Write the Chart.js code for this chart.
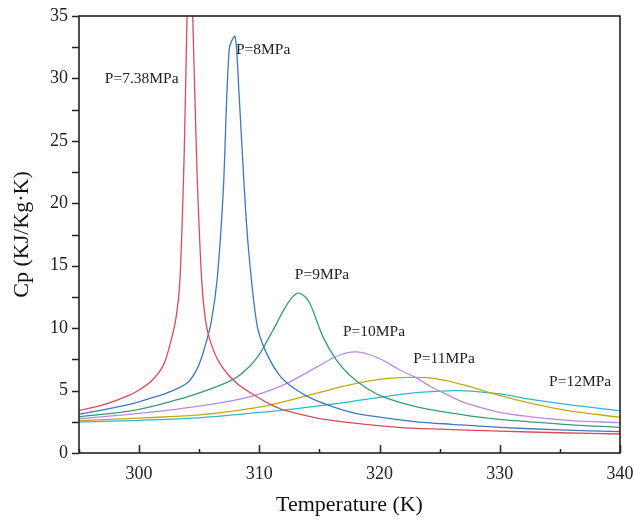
<!DOCTYPE html>
<html>
<head>
<meta charset="utf-8">
<script src="https://cdn.jsdelivr.net/npm/chart.js@4.4.1/dist/chart.umd.min.js"></script>
<style>
html,body{margin:0;padding:0;background:#fff;}
#wrap{width:634px;height:523px;}
</style>
</head>
<body>
<div id="wrap"><canvas id="c" width="634" height="523"></canvas></div>
<script>
// ---- Data ----
const seriesNames = ['P=7.38MPa', 'P=8MPa', 'P=9MPa', 'P=10MPa', 'P=11MPa', 'P=12MPa'];

const tRed  = [295, 297, 299, 300, 301, 302, 302.6, 303.1, 303.4, 303.75, 304.0, 304.18, 304.45, 304.8, 305.2, 305.5, 305.9, 306.7, 308.1, 309.8, 311, 312, 314.8, 317.5, 320.3, 323.1, 326, 330, 335, 340];
const cpRed = [3.4, 3.85, 4.55, 5.05, 5.75, 7.0, 8.8, 11.0, 13.9, 24.0, 35.8, 43, 35.3, 23.0, 13.9, 10.8, 9.0, 7.2, 5.6, 4.5, 3.85, 3.45, 2.8, 2.43, 2.16, 1.97, 1.88, 1.75, 1.62, 1.52];

const tBlue  = [295, 297, 299, 300, 301, 302.3, 304, 304.9, 305.5, 306.0, 306.5, 307.0, 307.5, 307.98, 308.3, 308.7, 309.1, 309.8, 310.5, 311.7, 313, 314.5, 317.5, 320.3, 323.1, 326, 330, 335, 340];
const cpBlue = [3.1, 3.45, 3.85, 4.1, 4.4, 4.8, 5.6, 6.9, 8.6, 10.5, 14.0, 21.0, 32.4, 33.35, 29.0, 22.0, 16.3, 10.3, 8.2, 6.2, 5.1, 4.3, 3.3, 2.83, 2.5, 2.3, 2.05, 1.85, 1.71];

const tGreen  = [295, 300, 304, 306, 308, 309.2, 310, 310.6, 311.4, 312, 312.6, 313.2, 313.7, 314.2, 315.3, 316.4, 317.5, 318.9, 320.3, 323.1, 326, 329, 332.5, 336, 340];
const cpGreen = [2.9, 3.5, 4.5, 5.15, 6.0, 6.95, 7.9, 8.9, 10.3, 11.4, 12.3, 12.8, 12.6, 12.0, 9.3, 7.45, 6.25, 5.2, 4.5, 3.7, 3.2, 2.8, 2.5, 2.25, 2.06];

const tPurple  = [295, 300, 305, 309.2, 312, 314.8, 316.7, 318.1, 319.8, 321.7, 323.1, 324.2, 326, 327, 329.8, 332.6, 336, 340];
const cpPurple = [2.75, 3.18, 3.76, 4.5, 5.45, 6.9, 7.85, 8.1, 7.65, 6.65, 6.0, 5.35, 4.5, 4.05, 3.3, 2.9, 2.6, 2.43];

const tYellow  = [295, 300, 305, 309.2, 312, 314.8, 317.5, 320.3, 322.5, 324.5, 327, 329.8, 332.6, 335.4, 340];
const cpYellow = [2.6, 2.8, 3.05, 3.55, 4.1, 4.8, 5.45, 5.93, 6.06, 5.98, 5.45, 4.65, 3.98, 3.44, 2.86];

const tCyan  = [295, 300, 305, 309.2, 312, 314.8, 317.5, 320.3, 323.1, 326.5, 329.8, 332.6, 335.4, 340];
const cpCyan = [2.5, 2.62, 2.82, 3.18, 3.44, 3.76, 4.1, 4.5, 4.83, 5.0, 4.75, 4.3, 3.92, 3.39];

// label anchors in data units (T, Cp)
const labelT  = [297.15, 308.05, 312.95, 316.95, 322.8, 334.1];
const labelCp = [29.95, 32.3, 14.25, 9.7, 7.55, 5.7];

const colors = ['#d94c58', '#3f78c0', '#3b9a78', '#b88be0', '#c9a613', '#2fb8c9'];
const tArrays = [tRed, tBlue, tGreen, tPurple, tYellow, tCyan];
const cpArrays = [cpRed, cpBlue, cpGreen, cpPurple, cpYellow, cpCyan];
const tensions = [0.3, 0.3, 0.4, 0.4, 0.4, 0.4];

const SERIF = '"Liberation Serif", "Times New Roman", serif';

const datasets = seriesNames.map((name, k) => ({
  label: name,
  data: tArrays[k].map((t, i) => ({x: t, y: cpArrays[k][i]})),
  borderColor: colors[k],
  borderWidth: 1.3,
  pointRadius: 0,
  fill: false,
  tension: tensions[k],
  clip: 0
}));

const framePlugin = {
  id: 'frame',
  beforeDraw(chart) {
    const ctx = chart.ctx;
    ctx.save();
    ctx.fillStyle = '#fff';
    ctx.fillRect(0, 0, chart.width, chart.height);
    ctx.restore();
  },
  afterDatasetsDraw(chart) {
    const ctx = chart.ctx;
    const a = chart.chartArea;
    const xs = chart.scales.x, ys = chart.scales.y;
    ctx.save();
    // labels
    ctx.font = '15.5px ' + SERIF;
    ctx.fillStyle = '#222';
    ctx.textAlign = 'left';
    ctx.textBaseline = 'middle';
    seriesNames.forEach((n, k) => {
      ctx.fillText(n, xs.getPixelForValue(labelT[k]), ys.getPixelForValue(labelCp[k]));
    });
    // ticks
    ctx.strokeStyle = '#222';
    ctx.lineWidth = 1.5;
    ctx.beginPath();
    xs.ticks.forEach(t => {
      const px = Math.round(xs.getPixelForValue(t.value)) + 0.5;
      const len = (Math.round(t.value) % 10 === 0) ? 8 : 4;
      ctx.moveTo(px, a.bottom);
      ctx.lineTo(px, a.bottom - len);
    });
    ys.ticks.forEach(t => {
      const py = Math.round(ys.getPixelForValue(t.value)) + 0.5;
      ctx.moveTo(a.left, py);
      ctx.lineTo(a.left - 7, py);
    });
    ctx.stroke();
    // frame
    ctx.lineWidth = 1.6;
    ctx.strokeRect(a.left, a.top, a.right - a.left, a.bottom - a.top);
    ctx.restore();
  }
};

new Chart(document.getElementById('c'), {
  type: 'line',
  data: { datasets },
  options: {
    responsive: false,
    animation: false,
    devicePixelRatio: 1,
    layout: { padding: { left: 0, top: 16, right: 14, bottom: 0 } },
    plugins: { legend: { display: false }, tooltip: { enabled: false } },
    scales: {
      x: {
        type: 'linear',
        min: 295, max: 340,
        border: { display: false },
        grid: { display: true, drawOnChartArea: false, drawTicks: false, color: 'rgba(0,0,0,0)' },
        ticks: {
          stepSize: 5,
          autoSkip: false,
          maxRotation: 0,
          padding: 10,
          color: '#222',
          font: { family: SERIF, size: 18 },
          callback: v => (Math.round(v) % 10 === 0 ? String(v) : '')
        },
        title: {
          display: true,
          text: 'Temperature (K)',
          color: '#111',
          font: { family: SERIF, size: 22 },
          padding: { top: 0, bottom: 5 }
        },
        afterFit(s) { s.height = 70; s.paddingLeft = 0; s.paddingRight = 0; }
      },
      y: {
        type: 'linear',
        min: 0, max: 35,
        border: { display: false },
        grid: { display: true, drawOnChartArea: false, drawTicks: false, color: 'rgba(0,0,0,0)' },
        ticks: {
          stepSize: 2.5,
          autoSkip: false,
          padding: 11,
          color: '#222',
          font: { family: SERIF, size: 18 },
          callback: v => (Math.abs(v % 5) < 1e-6 ? String(v) : '')
        },
        title: {
          display: true,
          text: 'Cp (KJ/Kg·K)',
          color: '#111',
          font: { family: SERIF, size: 22 },
          padding: { top: 9, bottom: 0 }
        },
        afterFit(s) { s.width = 79; s.paddingTop = 0; s.paddingBottom = 0; }
      }
    }
  },
  plugins: [framePlugin]
});
</script>
</body>
</html>
